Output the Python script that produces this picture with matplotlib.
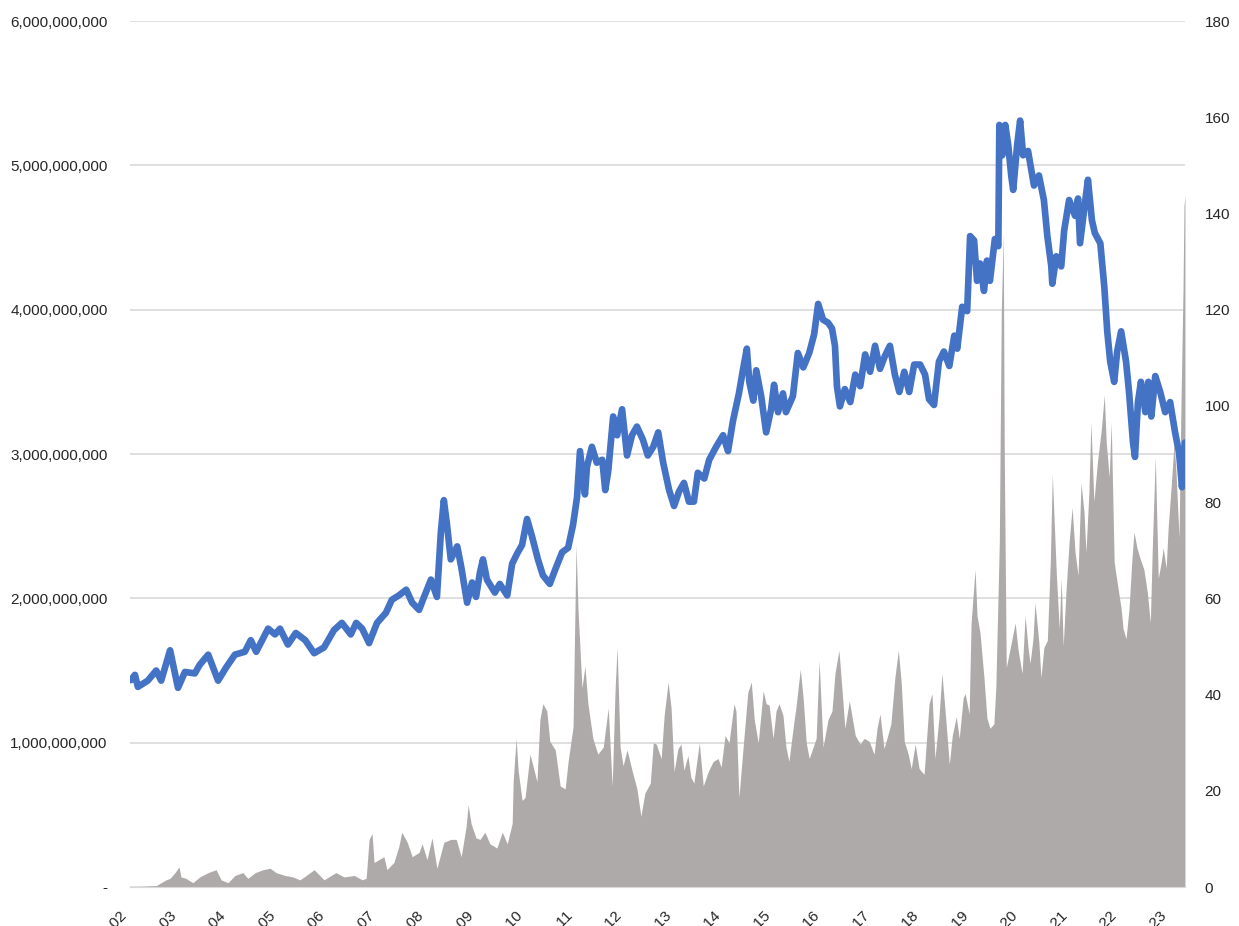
import matplotlib
matplotlib.use("Agg")
from matplotlib import pyplot as plt
from matplotlib.ticker import FuncFormatter, MultipleLocator

plt.rcParams['font.family'] = ['Liberation Sans', 'DejaVu Sans']

# blue line (right axis)
line_year = [2002.02, 2002.10, 2002.16, 2002.36, 2002.53, 2002.63, 2002.81, 2002.97, 2003.11, 2003.31,
             2003.41, 2003.58, 2003.78, 2003.94, 2004.12, 2004.32, 2004.44, 2004.55, 2004.79, 2004.93,
             2005.03, 2005.19, 2005.35, 2005.54, 2005.72, 2005.92, 2006.12, 2006.28, 2006.46, 2006.57,
             2006.69, 2006.83, 2006.99, 2007.17, 2007.29, 2007.43, 2007.58, 2007.70, 2007.84, 2007.94,
             2008.08, 2008.20, 2008.28, 2008.34, 2008.40, 2008.48, 2008.61, 2008.69, 2008.81, 2008.91,
             2008.99, 2009.07, 2009.13, 2009.21, 2009.37, 2009.47, 2009.62, 2009.72, 2009.82, 2009.92,
             2010.02, 2010.12, 2010.24, 2010.34, 2010.48, 2010.59, 2010.73, 2010.85, 2010.95, 2011.03,
             2011.09, 2011.19, 2011.23, 2011.33, 2011.43, 2011.54, 2011.60, 2011.66, 2011.76, 2011.84,
             2011.94, 2012.04, 2012.14, 2012.24, 2012.36, 2012.46, 2012.57, 2012.67, 2012.77, 2012.89,
             2012.99, 2013.09, 2013.19, 2013.29, 2013.39, 2013.47, 2013.60, 2013.70, 2013.84, 2013.98,
             2014.08, 2014.18, 2014.30, 2014.38, 2014.46, 2014.51, 2014.59, 2014.65, 2014.75, 2014.85,
             2014.95, 2015.01, 2015.09, 2015.19, 2015.25, 2015.39, 2015.49, 2015.60, 2015.72, 2015.82,
             2015.90, 2016.00, 2016.10, 2016.18, 2016.24, 2016.28, 2016.34, 2016.44, 2016.55, 2016.65,
             2016.75, 2016.85, 2016.95, 2017.05, 2017.15, 2017.25, 2017.35, 2017.45, 2017.54, 2017.64,
             2017.74, 2017.84, 2017.96, 2018.06, 2018.14, 2018.24, 2018.34, 2018.44, 2018.55, 2018.65,
             2018.71, 2018.81, 2018.91, 2018.97, 2019.05, 2019.11, 2019.17, 2019.25, 2019.31, 2019.37,
             2019.47, 2019.54, 2019.56, 2019.62, 2019.68, 2019.74, 2019.80, 2019.84, 2019.92, 2019.98,
             2020.04, 2020.14, 2020.26, 2020.36, 2020.46, 2020.53, 2020.61, 2020.63, 2020.71, 2020.81,
             2020.87, 2020.97, 2021.09, 2021.15, 2021.19, 2021.29, 2021.35, 2021.43, 2021.49, 2021.60,
             2021.68, 2021.74, 2021.80, 2021.88, 2021.94, 2022.02, 2022.12, 2022.18, 2022.26, 2022.30,
             2022.36, 2022.42, 2022.51, 2022.57, 2022.63, 2022.71, 2022.81, 2022.91, 2023.01, 2023.11,
             2023.19, 2023.25, 2023.28, 2023.31]
line_val = [43.0, 44.1, 41.6, 42.9, 45.0, 42.9, 49.2, 41.4, 44.7, 44.4,
            46.2, 48.3, 42.9, 45.6, 48.3, 48.9, 51.3, 48.9, 53.7, 52.5,
            53.7, 50.4, 52.8, 51.3, 48.6, 49.8, 53.4, 54.9, 52.5, 54.9,
            53.7, 50.7, 54.9, 57.0, 59.7, 60.6, 61.8, 59.1, 57.6, 60.3,
            63.9, 60.3, 73.8, 80.4, 75.6, 68.1, 70.8, 66.6, 59.1, 63.3,
            60.3, 65.4, 68.1, 63.9, 61.2, 63.0, 60.6, 67.2, 69.3, 71.1,
            76.5, 72.9, 68.1, 64.8, 63.0, 66.0, 69.6, 70.5, 75.3, 81.0,
            90.6, 81.6, 87.3, 91.5, 88.2, 88.8, 82.5, 86.4, 97.8, 93.9,
            99.3, 89.7, 93.9, 95.7, 93.0, 89.7, 91.5, 94.5, 88.2, 82.5,
            79.2, 82.2, 84.0, 80.1, 80.1, 86.1, 84.9, 88.8, 91.5, 93.9,
            90.6, 96.9, 102.6, 107.4, 111.9, 105.0, 101.1, 107.4, 102.0, 94.5,
            99.3, 104.4, 98.7, 102.6, 98.7, 102.0, 111.0, 108.0, 111.0, 114.9,
            121.2, 117.9, 117.3, 116.1, 112.5, 104.1, 99.9, 103.5, 100.8, 106.5,
            104.1, 110.7, 107.1, 112.5, 107.7, 110.4, 112.5, 106.5, 102.9, 107.1,
            102.9, 108.6, 108.6, 106.5, 101.4, 100.2, 109.2, 111.3, 108.3, 114.6,
            111.9, 120.6, 119.7, 135.3, 134.4, 126.0, 129.6, 123.9, 130.2, 126.0,
            134.7, 133.2, 158.4, 152.1, 158.4, 154.2, 147.9, 144.9, 154.2, 159.3,
            152.1, 153.0, 145.8, 147.9, 142.8, 135.3, 129.0, 125.4, 131.1, 129.0,
            136.5, 142.8, 139.5, 143.1, 133.8, 142.2, 147.0, 138.6, 135.9, 133.8,
            124.8, 115.5, 109.2, 105.0, 111.3, 115.5, 109.2, 102.9, 92.4, 89.4,
            100.8, 105.0, 98.7, 105.0, 97.8, 106.2, 102.9, 98.7, 100.8, 94.5,
            90.3, 83.1, 88.2, 92.4]

# grey area (left axis, billions)
area_year = [2002.00, 2002.53, 2002.63, 2002.73, 2002.81, 2002.91, 2002.99, 2003.03, 2003.13, 2003.27,
             2003.41, 2003.58, 2003.74, 2003.84, 2003.98, 2004.12, 2004.28, 2004.38, 2004.53, 2004.69,
             2004.83, 2004.95, 2005.13, 2005.29, 2005.43, 2005.52, 2005.72, 2005.92, 2006.16, 2006.32,
             2006.53, 2006.69, 2006.77, 2006.83, 2006.89, 2006.93, 2007.03, 2007.13, 2007.19, 2007.33,
             2007.43, 2007.49, 2007.60, 2007.70, 2007.84, 2007.90, 2008.00, 2008.10, 2008.20, 2008.34,
             2008.48, 2008.59, 2008.69, 2008.79, 2008.83, 2008.89, 2008.99, 2009.07, 2009.17, 2009.27,
             2009.41, 2009.52, 2009.62, 2009.72, 2009.74, 2009.80, 2009.84, 2009.92, 2009.98, 2010.08,
             2010.14, 2010.22, 2010.28, 2010.34, 2010.42, 2010.48, 2010.59, 2010.69, 2010.79, 2010.85,
             2010.95, 2011.01, 2011.05, 2011.13, 2011.19, 2011.25, 2011.35, 2011.45, 2011.56, 2011.66,
             2011.74, 2011.80, 2011.84, 2011.90, 2011.96, 2012.04, 2012.14, 2012.24, 2012.32, 2012.40,
             2012.51, 2012.57, 2012.63, 2012.73, 2012.79, 2012.87, 2012.93, 2012.99, 2013.07, 2013.13,
             2013.19, 2013.27, 2013.33, 2013.39, 2013.50, 2013.58, 2013.68, 2013.78, 2013.88, 2013.94,
             2014.02, 2014.10, 2014.20, 2014.24, 2014.30, 2014.40, 2014.48, 2014.55, 2014.61, 2014.69,
             2014.79, 2014.85, 2014.91, 2014.99, 2015.05, 2015.11, 2015.19, 2015.25, 2015.31, 2015.39,
             2015.45, 2015.54, 2015.60, 2015.66, 2015.72, 2015.80, 2015.86, 2015.92, 2016.00, 2016.10,
             2016.18, 2016.24, 2016.32, 2016.38, 2016.44, 2016.53, 2016.59, 2016.65, 2016.75, 2016.83,
             2016.93, 2017.03, 2017.09, 2017.15, 2017.23, 2017.29, 2017.37, 2017.45, 2017.52, 2017.58,
             2017.64, 2017.72, 2017.78, 2017.86, 2017.94, 2018.04, 2018.14, 2018.20, 2018.26, 2018.34,
             2018.40, 2018.46, 2018.55, 2018.61, 2018.69, 2018.75, 2018.83, 2018.87, 2018.95, 2018.99,
             2019.07, 2019.11, 2019.17, 2019.25, 2019.31, 2019.37, 2019.45, 2019.49, 2019.56, 2019.60,
             2019.64, 2019.66, 2019.70, 2019.80, 2019.88, 2019.94, 2020.02, 2020.08, 2020.14, 2020.18,
             2020.24, 2020.28, 2020.36, 2020.40, 2020.46, 2020.53, 2020.59, 2020.63, 2020.71, 2020.77,
             2020.81, 2020.85, 2020.91, 2020.97, 2021.03, 2021.09, 2021.15, 2021.21, 2021.27, 2021.31,
             2021.37, 2021.41, 2021.47, 2021.54, 2021.62, 2021.68, 2021.72, 2021.78, 2021.82, 2021.88,
             2021.94, 2022.02, 2022.06, 2022.12, 2022.18, 2022.24, 2022.28, 2022.34, 2022.40, 2022.48,
             2022.55, 2022.61, 2022.65, 2022.71, 2022.77, 2022.83, 2022.87, 2022.93, 2022.97, 2023.03,
             2023.09, 2023.13, 2023.19, 2023.23, 2023.27, 2023.29, 2023.31]
area_val = [0.00, 0.01, 0.03, 0.05, 0.06, 0.10, 0.14, 0.07, 0.06, 0.03,
            0.07, 0.10, 0.12, 0.05, 0.03, 0.08, 0.10, 0.06, 0.10, 0.12,
            0.13, 0.10, 0.08, 0.07, 0.05, 0.07, 0.12, 0.05, 0.10, 0.07,
            0.08, 0.05, 0.06, 0.33, 0.37, 0.17, 0.19, 0.21, 0.12, 0.17,
            0.28, 0.38, 0.31, 0.21, 0.24, 0.30, 0.19, 0.34, 0.13, 0.31,
            0.33, 0.33, 0.21, 0.42, 0.57, 0.44, 0.34, 0.33, 0.38, 0.30,
            0.27, 0.38, 0.30, 0.44, 0.73, 1.03, 0.81, 0.60, 0.62, 0.92,
            0.84, 0.73, 1.16, 1.27, 1.22, 1.01, 0.95, 0.70, 0.68, 0.87,
            1.11, 2.37, 1.92, 1.38, 1.53, 1.27, 1.03, 0.92, 0.97, 1.24,
            0.70, 1.38, 1.66, 0.97, 0.84, 0.95, 0.81, 0.68, 0.49, 0.65,
            0.72, 1.00, 0.99, 0.89, 1.19, 1.42, 1.24, 0.80, 0.96, 0.99,
            0.81, 0.91, 0.76, 0.72, 1.00, 0.70, 0.80, 0.87, 0.89, 0.83,
            1.05, 1.00, 1.27, 1.22, 0.62, 1.03, 1.35, 1.42, 1.16, 1.00,
            1.36, 1.27, 1.26, 1.03, 1.22, 1.27, 1.19, 0.97, 0.87, 1.09,
            1.24, 1.51, 1.30, 1.00, 0.89, 0.97, 1.03, 1.57, 0.97, 1.16,
            1.22, 1.48, 1.64, 1.38, 1.10, 1.29, 1.17, 1.05, 0.99, 1.03,
            1.01, 0.92, 1.10, 1.20, 0.96, 1.03, 1.13, 1.45, 1.64, 1.41,
            1.01, 0.92, 0.82, 0.99, 0.82, 0.78, 1.27, 1.34, 0.89, 1.17,
            1.48, 1.24, 0.85, 1.05, 1.18, 1.03, 1.31, 1.34, 1.20, 1.83,
            2.20, 1.88, 1.76, 1.45, 1.17, 1.10, 1.13, 1.39, 2.39, 3.99,
            4.53, 3.01, 1.52, 1.69, 1.83, 1.64, 1.48, 1.88, 1.66, 1.55,
            1.72, 1.97, 1.69, 1.45, 1.66, 1.71, 2.25, 2.86, 2.18, 1.79,
            2.14, 1.67, 2.07, 2.39, 2.63, 2.32, 2.16, 2.80, 2.60, 2.32,
            2.74, 3.22, 2.67, 2.94, 3.17, 3.41, 3.08, 2.84, 3.22, 2.25,
            2.11, 1.93, 1.79, 1.72, 1.93, 2.28, 2.46, 2.35, 2.28, 2.20,
            2.04, 1.83, 2.35, 2.98, 2.14, 2.25, 2.35, 2.21, 2.49, 2.77,
            3.08, 2.87, 2.42, 3.36, 4.13, 4.72, 4.79]

years = list(range(2002, 2024))
year_labels = ['Jan-%02d' % (y % 100) for y in years]

fig = plt.figure(figsize=(12.39, 9.26), dpi=100)
ax = fig.add_axes([0.1049, 0.0421, 0.8515, 0.9352])
ax2 = ax.twinx()

ax.fill_between(area_year, 0, area_val, color='#AEAAAA', linewidth=0)
ax2.plot(line_year, line_val, color='#4472C4', linewidth=4.8,
         solid_joinstyle='round', solid_capstyle='round')

ax.set_xlim(2002, 2023.31)
ax.set_ylim(0, 6)
ax2.set_ylim(0, 180)
ax.yaxis.set_major_locator(MultipleLocator(1))
ax2.yaxis.set_major_locator(MultipleLocator(20))
ax.yaxis.set_major_formatter(FuncFormatter(lambda v, p: '-' if v == 0 else '{:,.0f}'.format(v * 1e9)))

ax.set_axisbelow(True)
ax.grid(axis='y', color='#D9D9D9', linewidth=1.2)

ax.set_xticks(years)
ax.set_xticklabels(year_labels, rotation=45, ha='right', va='top')

for a in (ax, ax2):
    for s in a.spines.values():
        s.set_visible(False)
    a.tick_params(length=0, labelsize=11, colors='#262626')
ax.spines['bottom'].set_visible(True)
ax.spines['bottom'].set_color('#D9D9D9')
ax.tick_params(axis='y', pad=16)
ax.tick_params(axis='x', pad=15)
ax2.tick_params(axis='y', pad=14)

plt.savefig('out.png', dpi=100)
